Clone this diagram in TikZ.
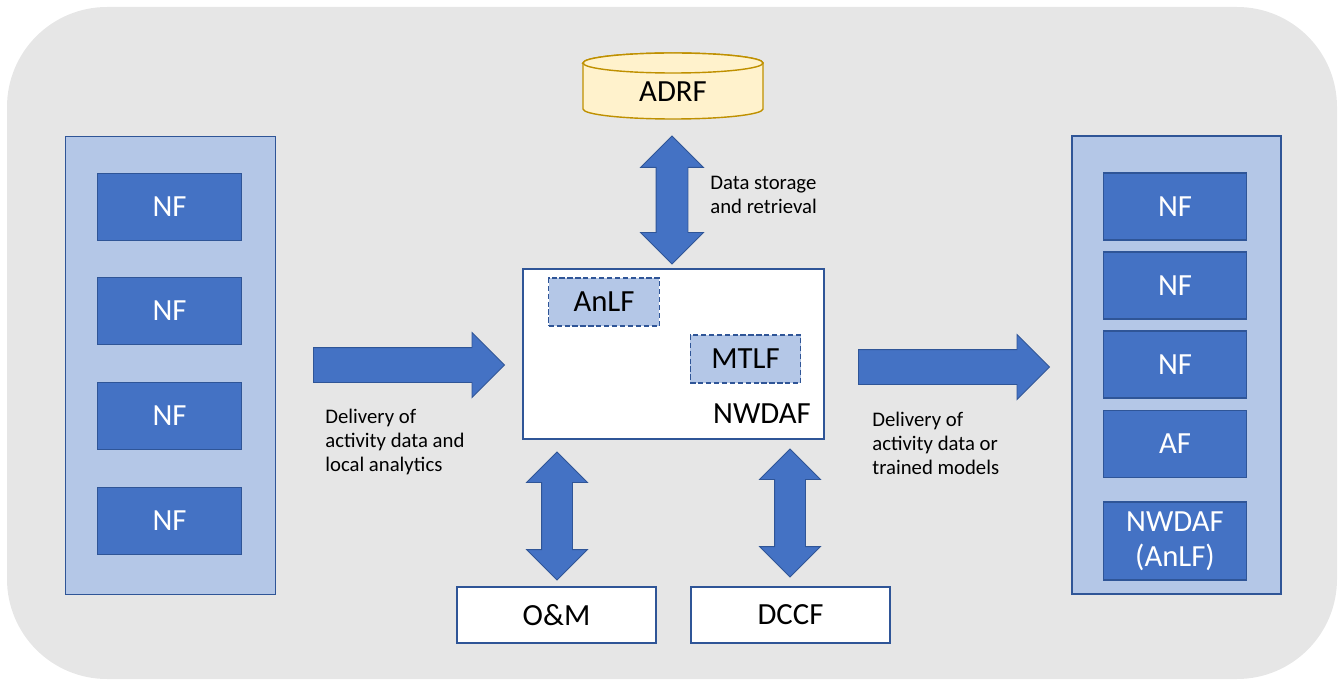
\documentclass[tikz,border=0pt]{standalone}
\usepackage{fontspec}
\setmainfont{Carlito}
\usetikzlibrary{shapes.arrows}

\definecolor{bggray}{HTML}{E6E6E6}
\definecolor{panelblue}{HTML}{B4C7E7}
\definecolor{nfblue}{HTML}{4472C4}
\definecolor{edgeblue}{HTML}{2F5597}
\definecolor{dbfill}{HTML}{FFF2CC}
\definecolor{dbedge}{HTML}{BF9000}

\begin{document}
\begin{tikzpicture}[
    nfpanel/.style={rectangle, draw=edgeblue, line width=0.8pt, fill=panelblue, minimum width=4.2cm, minimum height=9.17cm},
    nfbox/.style={rectangle, draw=edgeblue, line width=0.8pt, fill=nfblue, text=white, minimum width=2.87cm, minimum height=1.34cm, font=\fontsize{17.5}{20}\selectfont},
    funcbox/.style={rectangle, draw=edgeblue, line width=0.8pt, fill=white, font=\fontsize{17.5}{20}\selectfont},
    subfunc/.style={rectangle, draw=edgeblue, line width=0.8pt, dashed, dash pattern=on 3pt off 1.5pt, fill=panelblue, minimum width=2.21cm, minimum height=0.96cm, font=\fontsize{17.5}{20}\selectfont},
    flowarrow/.style={single arrow, anchor=tail, draw=edgeblue, line width=0.5pt, fill=nfblue, inner xsep=0pt, inner ysep=0.34cm, minimum height=3.82cm, single arrow head extend=0.3cm},
    linkarrow/.style={double arrow, rotate=90, draw=edgeblue, line width=0.5pt, fill=nfblue, inner xsep=0pt, inner ysep=0.3cm, minimum height=2.56cm, double arrow head extend=0.3cm},
    note/.style={align=left, anchor=west, inner sep=0pt, font=\fontsize{11.8}{13.6}\selectfont}
]
    \useasboundingbox (0,0) rectangle (26.84,-13.6);

    % Grey background
    \fill[bggray, rounded corners=2cm] (0.14,-0.14) rectangle (26.74,-13.58);

    % Left column of NFs
    \node[nfpanel] (srcpanel) at (3.41,-7.31) {};
    \node[nfbox] (src1) at (3.39,-4.14) {NF};
    \node[nfbox] (src2) at (3.39,-6.22) {NF};
    \node[nfbox] (src3) at (3.39,-8.32) {NF};
    \node[nfbox] (src4) at (3.39,-10.42) {NF};

    % Right column of consumers
    \node[nfpanel, minimum width=4.18cm, minimum height=9.16cm] (dstpanel) at (23.53,-7.30) {};
    \node[nfbox] (dst1) at (23.50,-4.13) {NF};
    \node[nfbox] (dst2) at (23.50,-5.71) {NF};
    \node[nfbox] (dst3) at (23.50,-7.29) {NF};
    \node[nfbox] (dst4) at (23.50,-8.88) {AF};
    \node[nfbox, minimum height=1.56cm, align=center] (dst5) at (23.50,-10.82) {NWDAF\\(AnLF)};

    % ADRF storage cylinder
    \draw[dbedge, fill=dbfill, line width=0.8pt] (11.66,-1.26) -- (11.66,-2.18)
        arc[start angle=180, end angle=360, x radius=1.8, y radius=0.2] -- (15.26,-1.26)
        arc[start angle=0, end angle=180, x radius=1.8, y radius=0.2] -- cycle;
    \draw[dbedge, fill=dbfill, line width=0.8pt] (13.46,-1.26) ellipse[x radius=1.8, y radius=0.2];
    \node[font=\fontsize{17.5}{20}\selectfont] (adrf) at (13.46,-1.84) {ADRF};

    % NWDAF with its logical functions
    \node[funcbox, minimum width=6.02cm, minimum height=3.4cm] (nwdaf) at (13.47,-7.08) {};
    \node[subfunc] (anlf) at (12.08,-6.04) {AnLF};
    \node[subfunc] (mtlf) at (14.91,-7.18) {MTLF};
    \node[font=\fontsize{17.5}{20}\selectfont] (nwdaflbl) at (15.24,-8.28) {NWDAF};

    % O&M and DCCF
    \node[funcbox, minimum width=3.98cm, minimum height=1.12cm] (oam) at (11.13,-12.30) {O\&M};
    \node[funcbox, minimum width=3.98cm, minimum height=1.12cm] (dccf) at (15.81,-12.30) {DCCF};

    % Block arrows
    \node[linkarrow, inner ysep=0.31cm, double arrow head extend=0.31cm] (storelink) at (13.44,-4.0) {};
    \node[flowarrow] (inflow) at (6.26,-7.30) {};
    \node[flowarrow] (outflow) at (17.16,-7.34) {};
    \node[linkarrow] (oamlink) at (11.14,-10.32) {};
    \node[linkarrow] (dccflink) at (15.80,-10.26) {};

    % Arrow labels
    \node[note] (storenote) at (14.20,-3.89) {Data storage\\and retrieval};
    \node[note] (innote) at (6.50,-8.84) {Delivery of\\activity data and\\local analytics};
    \node[note] (outnote) at (17.44,-8.86) {Delivery of\\activity data or\\trained models};

\end{tikzpicture}
\end{document}
